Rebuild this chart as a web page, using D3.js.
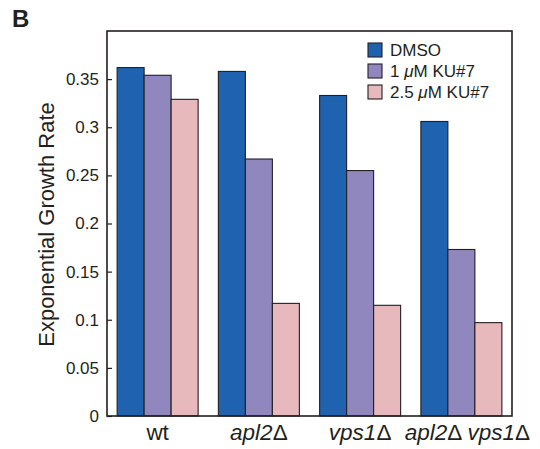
<!DOCTYPE html>
<html>
<head>
<meta charset="utf-8">
<script src="https://cdn.jsdelivr.net/npm/d3@7"></script>
<style>
html,body{margin:0;padding:0;background:#fff;}
text{font-family:"Liberation Sans",Arial,Helvetica,sans-serif;fill:#231f20;}
</style>
</head>
<body>
<svg id="chart" width="540" height="449"></svg>
<script>
// ---- data ----
const strains = ["wt", "apl2", "vps1", "apl2 vps1"];
const strainLabels = [
  [{t:"wt", it:false}],
  [{t:"apl2", it:true},{t:"\u0394", it:false}],
  [{t:"vps1", it:true},{t:"\u0394", it:false}],
  [{t:"apl2", it:true},{t:"\u0394 ", it:false},{t:"vps1", it:true},{t:"\u0394", it:false}]
];
const treatments = ["DMSO", "1 \u03bcM KU#7", "2.5 \u03bcM KU#7"];
const dmso   = [0.362, 0.358, 0.333, 0.306];
const ku1    = [0.354, 0.267, 0.255, 0.173];
const ku25   = [0.329, 0.117, 0.115, 0.097];
const yTicks = [0, 0.05, 0.1, 0.15, 0.2, 0.25, 0.3, 0.35];
const colors = ["#1f63b0", "#9187bf", "#e7b8bc"];

const series = [dmso, ku1, ku25];

const svg = d3.select("#chart");
const m = {left:107, right:28, top:31, bottom:33};
const W = 540, H = 449;
const x0 = d3.scaleBand().domain(strains).range([m.left, W - m.right]).paddingInner(0.2).paddingOuter(0.1);
const x1 = d3.scaleBand().domain(d3.range(treatments.length)).range([0, x0.bandwidth()]);
const y = d3.scaleLinear().domain([0, 0.4]).range([H - m.bottom, m.top]);

// bars
strains.forEach((s, i) => {
  const g = svg.append("g").attr("transform", `translate(${x0(s)},0)`);
  series.forEach((arr, j) => {
    g.append("rect")
      .attr("x", x1(j))
      .attr("y", y(arr[i]))
      .attr("width", x1.bandwidth())
      .attr("height", y(0) - y(arr[i]))
      .attr("fill", colors[j])
      .attr("stroke", "#231f20")
      .attr("stroke-width", 1.1);
  });
});

// frame
svg.append("rect")
  .attr("x", m.left).attr("y", m.top)
  .attr("width", W - m.right - m.left).attr("height", y(0) - m.top)
  .attr("fill", "none").attr("stroke", "#231f20").attr("stroke-width", 1.6);

// y axis (ticks inward)
const yAxis = d3.axisLeft(y).tickValues(yTicks).tickSizeInner(-5).tickSizeOuter(0).tickPadding(8)
  .tickFormat(d => d === 0 ? "0" : d3.format("")(+d.toFixed(2)));
const ya = svg.append("g").attr("transform", `translate(${m.left},0)`).call(yAxis);
ya.select(".domain").remove();
ya.selectAll(".tick line").attr("stroke", "#231f20").attr("stroke-width", 1.2);
ya.selectAll(".tick text").style("font-size", "17px").style("font-family", "Liberation Sans, Arial, sans-serif").attr("fill", "#231f20");

// x labels
const xl = svg.append("g");
strains.forEach((s, i) => {
  const t = xl.append("text")
    .attr("x", x0(s) + x0.bandwidth() / 2 + (i === 3 ? 6 : 0))
    .attr("y", 440)
    .attr("text-anchor", "middle")
    .style("font-size", "22.5px");
  strainLabels[i].forEach(p => {
    t.append("tspan").text(p.t).style("font-style", p.it ? "italic" : "normal");
  });
});

// y title
svg.append("text")
  .attr("transform", `translate(54,${(m.top + y(0)) / 2 + 1}) rotate(-90)`)
  .attr("text-anchor", "middle")
  .style("font-size", "22px")
  .text("Exponential Growth Rate");

// panel letter
svg.append("text").attr("x", 12).attr("y", 27)
  .style("font-size", "24px").style("font-weight", "bold").text("B");

// legend
const lg = svg.append("g").attr("transform", "translate(368,43)");
treatments.forEach((t, j) => {
  const row = lg.append("g").attr("transform", `translate(0,${j * 21})`);
  row.append("rect").attr("width", 14).attr("height", 14)
    .attr("fill", colors[j]).attr("stroke", "#231f20").attr("stroke-width", 1.1);
  const tx = row.append("text").attr("x", 22).attr("y", 13).style("font-size", "17px");
  const parts = t.split("\u03bc");
  tx.append("tspan").text(parts[0]);
  if (parts.length > 1) {
    tx.append("tspan").text("\u03bc").style("font-style", "italic");
    tx.append("tspan").text(parts[1]);
  }
});
</script>
</body>
</html>
